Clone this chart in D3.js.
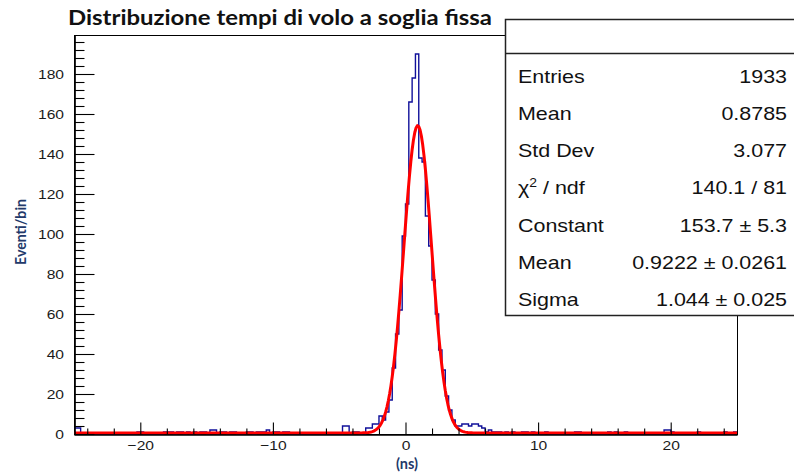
<!DOCTYPE html>
<html><head><meta charset="utf-8">
<script src="https://cdn.jsdelivr.net/npm/d3@7"></script>
<style>body{margin:0;background:#fff}svg{display:block}</style>
</head><body><svg id="c" width="794" height="475"></svg>
<script>
// ---------- data ----------
const chartTitle = "Distribuzione tempi di volo a soglia fissa";
const xAxisTitle = "(ns)";
const yAxisTitle = "Eventi/bin";
const xRange = [-25, 25];
const yMax = [199.5];
const binWidth = 0.25;
// counts per 0.25 ns bin, from -25 to +25 ns (200 bins)
const counts = [
  3,3,0,0,0,0,0,0,0,0,0,0,0,0,0,0,0,0,0,1,
  1,0,0,0,0,0,0,1,1,1,0,1,1,0,1,0,1,0,1,1,
  0,2,2,0,1,1,0,1,1,0,0,0,1,1,0,1,1,1,2,0,
  1,1,0,1,1,0,0,0,0,0,0,0,0,0,0,0,0,0,0,0,
  0,4,4,0,1,1,0,0,3,3,5,5,9,7,11,17,33,50,62,99,
  115,166,178,190,138,136,109,94,77,60,42,32,19,12,7,4,4,5,5,4,
  5,5,4,3,1,2,1,1,1,0,1,0,1,0,0,1,1,0,1,0,
  0,0,1,0,0,0,0,0,0,0,0,1,1,0,0,0,0,0,0,0,
  0,1,0,1,0,0,1,0,0,0,0,0,0,0,0,0,0,0,2,2,
  1,0,0,0,0,0,0,0,1,0,0,0,0,0,0,0,1,0,0,1
];
const xMajorTicks = [-20, -10, 0, 10, 20];
const xMinorTicks = [-24,-22,-18,-16,-14,-12,-8,-6,-4,-2,2,4,6,8,12,14,16,18,22,24];
const yMajorTicks = [0, 20, 40, 60, 80, 100, 120, 140, 160, 180];
const yMinorTicks = [4,8,12,16,24,28,32,36,44,48,52,56,64,68,72,76,84,88,92,96,104,108,112,116,124,128,132,136,144,148,152,156,164,168,172,176,184,188,192,196];
const statLabels = ["Entries", "Mean", "Std Dev", "CHI2", "Constant", "Mean", "Sigma"];
const statValues = ["1933", "0.8785", "3.077", "140.1 / 81", "153.7 \u00b1 5.3", "0.9222 \u00b1 0.0261", "1.044 \u00b1 0.025"];
// Gaussian fit parameters (from the stats box)
const fitConstant = 153.7, fitMean = 0.9222, fitSigma = 1.044;
const fitStep = 0.1;

// ---------- layout ----------
const svg = d3.select("#c");
const L = 74, R = 737, T = 35, B = 434;
const SX = 1.16; // horizontal stretch of the reference text
const x = d3.scaleLinear().domain(xRange).range([L, R]);
const y = d3.scaleLinear().domain([0, yMax[0]]).range([B, T]);
const helv = "'Liberation Sans', Arial, Helvetica, sans-serif";
const navy = "#22396a";

svg.append("rect").attr("width", 794).attr("height", 475).attr("fill", "#fff");

// frame
svg.append("rect").attr("x", L + 0.5).attr("y", T + 0.5).attr("width", R - L).attr("height", B - T)
  .attr("fill", "none").attr("stroke", "#000").attr("stroke-width", 1);

// histogram
const edges = d3.range(counts.length + 1).map(i => xRange[0] + i * binWidth);
const stepData = edges.map((e, i) => [e, counts[Math.min(i, counts.length - 1)]]);
svg.append("path")
  .attr("d", d3.line().x(d => x(d[0])).y(d => y(d[1])).curve(d3.curveStepAfter)(stepData))
  .attr("fill", "none").attr("stroke", "#10109a").attr("stroke-width", 1.4);

// fit curve
const fx = d3.range(xRange[0], xRange[1] + 1e-9, fitStep);
const fitPts = fx.map(v => [v, fitConstant * Math.exp(-0.5 * Math.pow((v - fitMean) / fitSigma, 2))]);
svg.append("path")
  .attr("d", d3.line().x(d => x(d[0])).y(d => y(d[1]) - 1)(fitPts))
  .attr("fill", "none").attr("stroke", "#ff0000").attr("stroke-width", 3).attr("stroke-linejoin", "round");

// axes
function styleAxis(g) {
  g.select(".domain").attr("stroke", "#000").attr("stroke-width", 1.2);
  g.selectAll(".tick line").attr("stroke", "#000").attr("stroke-width", 1.1);
  g.selectAll("text").attr("font-family", helv).attr("font-size", 13.5).attr("fill", "#1a1a1a");
}
const yAxisMinor = svg.append("g").attr("transform", `translate(${L + 0.5},0)`)
  .call(d3.axisLeft(y).tickValues(yMinorTicks).tickSize(-10).tickSizeOuter(0).tickFormat(""));
styleAxis(yAxisMinor);
const yAxis = svg.append("g").attr("transform", `translate(${L + 0.5},0)`)
  .call(d3.axisLeft(y).tickValues(yMajorTicks).tickSize(-20).tickSizeOuter(0).tickPadding(9));
styleAxis(yAxis);
yAxis.selectAll("text").attr("transform", `scale(${SX},1)`);

const xAxisMinor = svg.append("g").attr("transform", `translate(0,${B + 0.5})`)
  .call(d3.axisBottom(x).tickValues(xMinorTicks).tickSize(-6).tickSizeOuter(0).tickFormat(""));
styleAxis(xAxisMinor);
const xAxis = svg.append("g").attr("transform", `translate(0,${B + 0.5})`)
  .call(d3.axisBottom(x).tickValues(xMajorTicks).tickSize(-12).tickSizeOuter(0).tickPadding(6));
styleAxis(xAxis);
xAxis.selectAll("text").attr("transform", `scale(${SX},1)`);

// titles
svg.append("text").attr("x", 68).attr("y", 25).text(chartTitle)
  .attr("font-family", "Lato, 'Open Sans', sans-serif").attr("font-weight", 700)
  .attr("font-size", 21).attr("fill", "#111")
  .attr("textLength", 424).attr("lengthAdjust", "spacingAndGlyphs");

svg.append("text").attr("transform", "translate(26,232) rotate(-90)")
  .attr("text-anchor", "middle").text(yAxisTitle)
  .attr("font-family", "Lato, 'Open Sans', sans-serif").attr("font-weight", 700)
  .attr("font-size", 15.5).attr("fill", navy)
  .attr("textLength", 66).attr("lengthAdjust", "spacingAndGlyphs");

svg.append("text").attr("x", 407).attr("y", 469).attr("text-anchor", "middle").text(xAxisTitle)
  .attr("font-family", "Lato, 'Open Sans', sans-serif").attr("font-weight", 700)
  .attr("font-size", 14.5).attr("fill", navy);

// stats box
const box = svg.append("g");
box.append("rect").attr("x", 505.5).attr("y", 19.5).attr("width", 300).attr("height", 296)
  .attr("fill", "#fff").attr("stroke", "#222").attr("stroke-width", 1.5);
box.append("line").attr("x1", 505).attr("x2", 794).attr("y1", 53.5).attr("y2", 53.5)
  .attr("stroke", "#222").attr("stroke-width", 1.5);
const rowH = 37.2, row0 = 82.7;
statLabels.forEach((lab, i) => {
  const by = row0 + i * rowH;
  const gl = box.append("g").attr("transform", `translate(518,${by}) scale(${SX},1)`);
  const t = gl.append("text").attr("font-family", helv).attr("font-size", 18.5).attr("fill", "#111");
  if (lab === "CHI2") {
    t.append("tspan").text("\u03c7");
    t.append("tspan").text("2").attr("font-size", 12).attr("dy", -7);
    t.append("tspan").text(" / ndf").attr("dy", 7);
  } else {
    t.text(lab);
  }
  box.append("g").attr("transform", `translate(787,${by}) scale(${SX},1)`)
    .append("text").attr("text-anchor", "end").attr("font-family", helv).attr("font-size", 18.5)
    .attr("fill", "#111").text(statValues[i]);
});
</script></body></html>
